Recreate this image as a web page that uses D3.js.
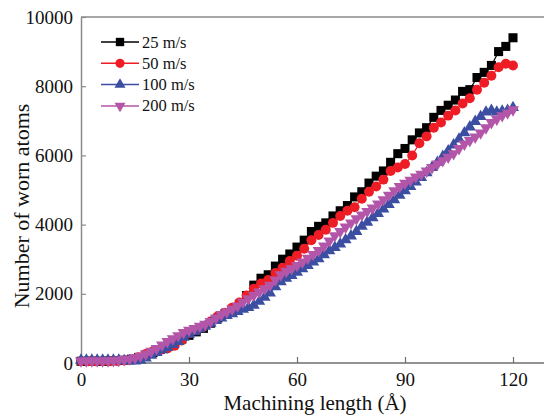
<!DOCTYPE html>
<html>
<head>
<meta charset="utf-8">
<script src="https://cdn.jsdelivr.net/npm/d3@7"></script>
<style>
  body { margin: 0; background: #fff; }
  svg { display: block; font-family: "Liberation Serif", "Times New Roman", serif; }
</style>
</head>
<body>
<div id="app"></div>
<script>
const container = document.querySelector('#app');

// Declare the chart dimensions and margins.
const width = 544;
const height = 417;
const marginTop = 17;
const marginBottom = 54;
const marginLeft = 81;

// data: x steps and worn atom counts
const xCoarse = d3.range(0, 121, 2);
const xFine = d3.range(0, 121, 1.5);

const v25 = [50, 50, 50, 50, 60, 70, 80, 110, 160, 230, 300, 390, 480, 580, 690, 800, 900, 1000, 1150, 1300,
  1420, 1550, 1700, 1950, 2250, 2450, 2550, 2800, 3000, 3150, 3350, 3550, 3800, 3950, 4050, 4250, 4400, 4550,
  4800, 4950, 5200, 5400, 5550, 5800, 6050, 6200, 6450, 6650, 6800, 7100, 7300, 7450, 7600, 7850, 7900, 8250,
  8400, 8600, 9000, 9150, 9400];
const v50 = [50, 50, 50, 50, 50, 60, 70, 100, 170, 260, 340, 380, 420, 500, 650, 850, 950, 1050, 1200, 1350,
  1450, 1600, 1750, 1950, 2150, 2300, 2400, 2600, 2750, 2950, 3100, 3300, 3550, 3700, 3850, 4050, 4250, 4400,
  4500, 4750, 4950, 5100, 5300, 5550, 5650, 5750, 6000, 6350, 6550, 6800, 6950, 7150, 7300, 7500, 7650, 7900,
  8100, 8300, 8550, 8650, 8600];
const v100 = [80, 80, 80, 80, 80, 80, 80, 80, 70, 60, 60, 80, 140, 220, 300, 380, 450, 530, 620, 740,
  830, 900, 980, 1060, 1150, 1230, 1300, 1370, 1420, 1490, 1550, 1600, 1670, 1780, 1900, 2020, 2200, 2350,
  2450, 2530, 2620, 2720, 2820, 2920, 3010, 3130, 3240, 3340, 3440, 3560, 3670, 3800, 3950, 4070, 4200,
  4320, 4450, 4580, 4720, 4850, 4980, 5100, 5230, 5360, 5500, 5650, 5800, 5970, 6130, 6300, 6470, 6650,
  6820, 6980, 7120, 7250, 7300, 7250, 7280, 7300, 7380];
const v200 = [60, 60, 60, 60, 60, 60, 70, 80, 100, 120, 150, 200, 260, 340, 420, 520, 620, 700, 790, 880,
  950, 1000, 1060, 1120, 1200, 1300, 1400, 1480, 1560, 1650, 1760, 1860, 1960, 2050, 2150, 2250, 2400, 2550,
  2650, 2730, 2820, 2920, 3030, 3140, 3250, 3380, 3530, 3680, 3800, 3930, 4050, 4170, 4280, 4380, 4480,
  4600, 4720, 4850, 4980, 5100, 5200, 5280, 5380, 5460, 5550, 5650, 5750, 5850, 5950, 6050, 6200, 6330,
  6430, 6530, 6650, 6800, 6950, 7050, 7150, 7230, 7320];

const labels = ["25 m/s", "50 m/s", "100 m/s", "200 m/s"];
const colors = ["#000000", "#ee1d25", "#3b4ea2", "#b356a9"];
const xTicks = [0, 30, 60, 90, 120];
const yTicks = [0, 2000, 4000, 6000, 8000, 10000];

const series = [
  { name: labels[0], xs: xCoarse, ys: v25, color: colors[0], symbol: d3.symbolSquare, size: 82 },
  { name: labels[1], xs: xCoarse, ys: v50, color: colors[1], symbol: d3.symbolCircle, size: 78 },
  { name: labels[2], xs: xFine, ys: v100, color: colors[2], symbol: d3.symbolTriangle, size: 62, rot: 0 },
  { name: labels[3], xs: xFine, ys: v200, color: colors[3], symbol: d3.symbolTriangle, size: 62, rot: 180 },
];

// scales; the frame runs past the right edge of the picture
const x = d3.scaleLinear()
    .domain([0, 130])
    .range([marginLeft, marginLeft + 130 * 3.6]);

const y = d3.scaleLinear()
    .domain([0, 10000])
    .range([height - marginBottom, marginTop]);

const svg = d3.create("svg")
    .attr("width", width)
    .attr("height", height);

// frame top line
svg.append("line")
    .attr("x1", marginLeft).attr("x2", width)
    .attr("y1", marginTop).attr("y2", marginTop)
    .attr("stroke", "#8a8a8a").attr("stroke-width", 1.5);

// x-axis
const gx = svg.append("g")
    .attr("transform", `translate(0,${height - marginBottom})`)
    .call(d3.axisBottom(x).tickValues(xTicks).tickSizeInner(-6).tickSizeOuter(0).tickPadding(10));
gx.select(".domain").attr("stroke", "#6e6e6e").attr("stroke-width", 1.5).attr("d", `M${marginLeft},0H${width}`);
gx.selectAll(".tick line").attr("stroke", "#6e6e6e").attr("stroke-width", 1.2);
gx.selectAll(".tick text").attr("font-size", 19).attr("fill", "#111").attr("font-family", "Liberation Serif");

// y-axis
const gy = svg.append("g")
    .attr("transform", `translate(${marginLeft},0)`)
    .call(d3.axisLeft(y).tickValues(yTicks).tickSizeInner(-5).tickSizeOuter(0).tickPadding(8)
      .tickFormat(d3.format("d")));
gy.select(".domain").attr("stroke", "#8a8a8a").attr("stroke-width", 1.5);
gy.selectAll(".tick line").attr("stroke", "#8a8a8a").attr("stroke-width", 1.2);
gy.selectAll(".tick text").attr("font-size", 19).attr("fill", "#111").attr("font-family", "Liberation Serif");

// axis titles
svg.append("text")
    .attr("x", (marginLeft + 549) / 2)
    .attr("y", 410)
    .attr("text-anchor", "middle")
    .attr("font-size", 21)
    .attr("fill", "#111")
    .text("Machining length (Å)");

svg.append("text")
    .attr("transform", `translate(29,206) rotate(-90)`)
    .attr("text-anchor", "middle")
    .attr("font-size", 22)
    .attr("fill", "#111")
    .text("Number of worn atoms");

// lines and markers
const line = d3.line()
    .x(d => x(d[0]))
    .y(d => y(d[1]));

const plot = svg.append("g");

series.forEach(s => {
  const pts = s.xs.map((xv, i) => [xv, s.ys[i]]);
  plot.append("path")
    .datum(pts)
    .attr("fill", "none")
    .attr("stroke", s.color)
    .attr("stroke-width", 1.2)
    .attr("d", line);
  plot.append("g").selectAll("path")
    .data(pts)
    .join("path")
      .attr("transform", d => `translate(${x(d[0])},${y(d[1])}) rotate(${s.rot || 0})`)
      .attr("d", d3.symbol(s.symbol, s.size))
      .attr("fill", s.color);
});

// legend
const legend = svg.append("g").attr("transform", "translate(101,42)");
series.forEach((s, i) => {
  const row = legend.append("g").attr("transform", `translate(0,${i * 21.3})`);
  row.append("line")
    .attr("x1", 0).attr("x2", 38)
    .attr("stroke", s.color).attr("stroke-width", 1.5);
  row.append("path")
    .attr("transform", `translate(19,0) rotate(${s.rot || 0})`)
    .attr("d", d3.symbol(s.symbol, s.size * 0.85))
    .attr("fill", s.color);
  row.append("text")
    .attr("x", 41)
    .attr("y", 5.5)
    .attr("font-size", 16.5)
    .attr("fill", "#111")
    .text(s.name);
});

container.append(svg.node());
</script>
</body>
</html>
